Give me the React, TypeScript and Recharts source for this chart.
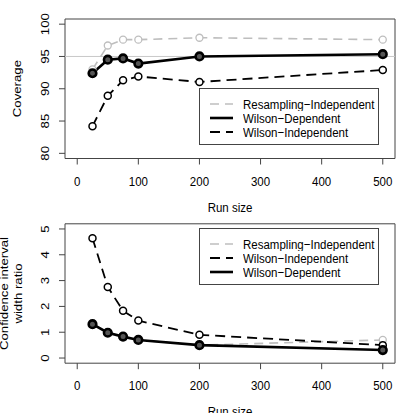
import {
  LineChart,
  Line,
  XAxis,
  YAxis,
  ReferenceArea,
  ReferenceLine,
  Legend,
  Label,
} from 'recharts'

const runSizes = [25, 50, 75, 100, 200, 500]

// coverage (%)
const coverageResampling = [93.0, 96.7, 97.6, 97.6, 97.9, 97.6]
const coverageWilsonDep = [92.4, 94.5, 94.7, 93.9, 95.0, 95.35]
const coverageWilsonIndep = [84.2, 88.9, 91.3, 91.9, 91.05, 92.9]

// confidence interval width ratio
const ratioResampling = [1.31, 0.98, 0.83, 0.7, 0.5, 0.7]
const ratioWilsonIndep = [4.64, 2.75, 1.83, 1.45, 0.9, 0.5]
const ratioWilsonDep = [1.31, 0.98, 0.83, 0.7, 0.5, 0.31]

const xTicks = [0, 100, 200, 300, 400, 500]
const coverageTicks = [80, 85, 90, 95, 100]
const ratioTicks = [0, 1, 2, 3, 4, 5]

const FONT = '"Liberation Sans", Arial, Helvetica, sans-serif'
const FONT_SIZE = 11.5
const AXIS = '#444'
const STRETCH = 1.15

type SeriesStyle = {
  key: string
  name: string
  stroke: string
  width: number
  dash?: string
  dotR: number
  dotWidth: number
  dotFill: string
}

const resamplingStyle: SeriesStyle = {
  key: 'resampling',
  name: 'Resampling\u2212Independent',
  stroke: '#bebebe',
  width: 1.6,
  dash: '9 6',
  dotR: 3.5,
  dotWidth: 1.3,
  dotFill: '#fff',
}
const wilsonDepStyle: SeriesStyle = {
  key: 'wilsonDep',
  name: 'Wilson\u2212Dependent',
  stroke: '#000',
  width: 2.6,
  dotR: 3.8,
  dotWidth: 2.6,
  dotFill: '#555',
}
const wilsonIndepStyle: SeriesStyle = {
  key: 'wilsonIndep',
  name: 'Wilson\u2212Independent',
  stroke: '#000',
  width: 1.8,
  dash: '10 6',
  dotR: 3.5,
  dotWidth: 1.5,
  dotFill: '#fff',
}

const coverageData = runSizes.map((run, i) => ({
  run,
  resampling: coverageResampling[i],
  wilsonDep: coverageWilsonDep[i],
  wilsonIndep: coverageWilsonIndep[i],
}))

const ratioData = runSizes.map((run, i) => ({
  run,
  resampling: ratioResampling[i],
  wilsonIndep: ratioWilsonIndep[i],
  wilsonDep: ratioWilsonDep[i],
}))

function XTick({ x, y, payload }: any) {
  return (
    <text
      transform={`translate(${x},${y + 18}) scale(1,${STRETCH})`}
      textAnchor="middle"
      fontSize={FONT_SIZE}
      fontFamily={FONT}
      fill="#000"
    >
      {payload.value}
    </text>
  )
}

function YTick({ x, y, payload }: any) {
  return (
    <text
      transform={`translate(${x},${y}) rotate(-90) scale(${STRETCH},1)`}
      textAnchor="middle"
      fontSize={FONT_SIZE}
      fontFamily={FONT}
      fill="#000"
    >
      {payload.value}
    </text>
  )
}

function makeDot(s: SeriesStyle) {
  return (props: any) => (
    <circle
      key={`${s.key}-${props.index}`}
      cx={props.cx}
      cy={props.cy}
      r={s.dotR}
      fill={s.dotFill}
      stroke={s.stroke}
      strokeWidth={s.dotWidth}
    />
  )
}

function renderSeries(s: SeriesStyle) {
  return (
    <Line
      key={s.key}
      type="linear"
      dataKey={s.key}
      name={s.name}
      stroke={s.stroke}
      strokeWidth={s.width}
      strokeDasharray={s.dash}
      dot={makeDot(s)}
      activeDot={false}
      isAnimationActive={false}
    />
  )
}

function LegendBox({ items }: { items: SeriesStyle[] }) {
  return (
    <div
      style={{
        width: 178,
        height: 55,
        border: `1px solid ${AXIS}`,
        background: '#fff',
        position: 'relative',
        fontFamily: FONT,
        fontSize: FONT_SIZE,
      }}
    >
      {items.map((s, i) => (
        <div
          key={s.key}
          style={{ position: 'absolute', left: 10, top: 14.5 + i * 14 - 7, height: 14, display: 'flex', alignItems: 'center' }}
        >
          <svg width={23} height={6} style={{ display: 'block' }}>
            <line x1={0} y1={3} x2={23} y2={3} stroke={s.stroke} strokeWidth={s.width} strokeDasharray={s.dash} />
          </svg>
          <span style={{ marginLeft: 10, display: 'inline-block', transform: `scaleY(${STRETCH})`, whiteSpace: 'nowrap', color: '#000' }}>
            {s.name}
          </span>
        </div>
      ))}
    </div>
  )
}

function AxisTitleX({ y }: { y: number }) {
  return (
    <text
      transform={`translate(230,${y}) scale(1,${STRETCH})`}
      textAnchor="middle"
      fontSize={FONT_SIZE}
      fontFamily={FONT}
      fill="#000"
    >
      Run size
    </text>
  )
}

function AxisTitleY({ lines, x, y }: { lines: string[]; x: number; y: number }) {
  return (
    <g>
      {lines.map((t, i) => (
        <text
          key={t}
          transform={`translate(${x + i * 13.5},${y}) rotate(-90) scale(${STRETCH},1)`}
          textAnchor="middle"
          fontSize={FONT_SIZE}
          fontFamily={FONT}
          fill="#000"
        >
          {t}
        </text>
      ))}
    </g>
  )
}

export default function App() {
  const topOrder = [resamplingStyle, wilsonDepStyle, wilsonIndepStyle]
  const bottomOrder = [resamplingStyle, wilsonIndepStyle, wilsonDepStyle]
  return (
    <div style={{ position: 'fixed', left: 0, top: 0, width: 400, height: 413, background: '#fff', overflow: 'hidden' }}>
      <div style={{ position: 'absolute', left: 0, top: 0 }}>
        <LineChart width={400} height={220} data={coverageData} margin={{ top: 19, right: 5, bottom: 31.5, left: 25 }}>
          <XAxis
            dataKey="run"
            type="number"
            domain={[-20, 520]}
            ticks={xTicks}
            allowDataOverflow
            height={30}
            axisLine={false}
            tickLine={{ stroke: AXIS }}
            tickSize={6}
            tickMargin={3}
            tick={<XTick />}
            interval={0}
            label={<Label content={() => <AxisTitleX y={212} />} />}
          />
          <YAxis
            type="number"
            domain={[79.2, 100.8]}
            ticks={coverageTicks}
            allowDataOverflow
            width={40}
            axisLine={false}
            tickLine={{ stroke: AXIS }}
            tickSize={6}
            tickMargin={10}
            tick={<YTick />}
            interval={0}
            label={<Label content={() => <AxisTitleY lines={['Coverage']} x={20.5} y={88.6} />} />}
          />
          <ReferenceLine y={95} stroke="#c8c8c8" strokeWidth={1} />
          <ReferenceArea x1={-20} x2={520} y1={79.2} y2={100.8} fill="none" stroke={AXIS} strokeWidth={1} />
          {topOrder.map(renderSeries)}
          <Legend
            layout="horizontal"
            verticalAlign="middle"
            align="center"
            wrapperStyle={{ left: 199, top: 88, width: 180, height: 57 }}
            content={() => <LegendBox items={topOrder} />}
          />
        </LineChart>
      </div>
      <div style={{ position: 'absolute', left: 0, top: 206 }}>
        <LineChart width={400} height={207} data={ratioData} margin={{ top: 17.8, right: 5, bottom: 19.8, left: 25 }}>
          <XAxis
            dataKey="run"
            type="number"
            domain={[-20, 520]}
            ticks={xTicks}
            allowDataOverflow
            height={30}
            axisLine={false}
            tickLine={{ stroke: AXIS }}
            tickSize={6}
            tickMargin={3}
            tick={<XTick />}
            interval={0}
            label={<Label content={() => <AxisTitleX y={210} />} />}
          />
          <YAxis
            type="number"
            domain={[-0.2, 5.2]}
            ticks={ratioTicks}
            allowDataOverflow
            width={40}
            axisLine={false}
            tickLine={{ stroke: AXIS }}
            tickSize={6}
            tickMargin={10}
            tick={<YTick />}
            interval={0}
            label={
              <Label
                content={() => <AxisTitleY lines={['Confidence interval', 'width ratio']} x={8} y={87.5} />}
              />
            }
          />
          <ReferenceArea x1={-20} x2={520} y1={-0.2} y2={5.2} fill="none" stroke={AXIS} strokeWidth={1} />
          {bottomOrder.map(renderSeries)}
          <Legend
            layout="horizontal"
            verticalAlign="middle"
            align="center"
            wrapperStyle={{ left: 199, top: 22, width: 180, height: 57 }}
            content={() => <LegendBox items={bottomOrder} />}
          />
        </LineChart>
      </div>
    </div>
  )
}
